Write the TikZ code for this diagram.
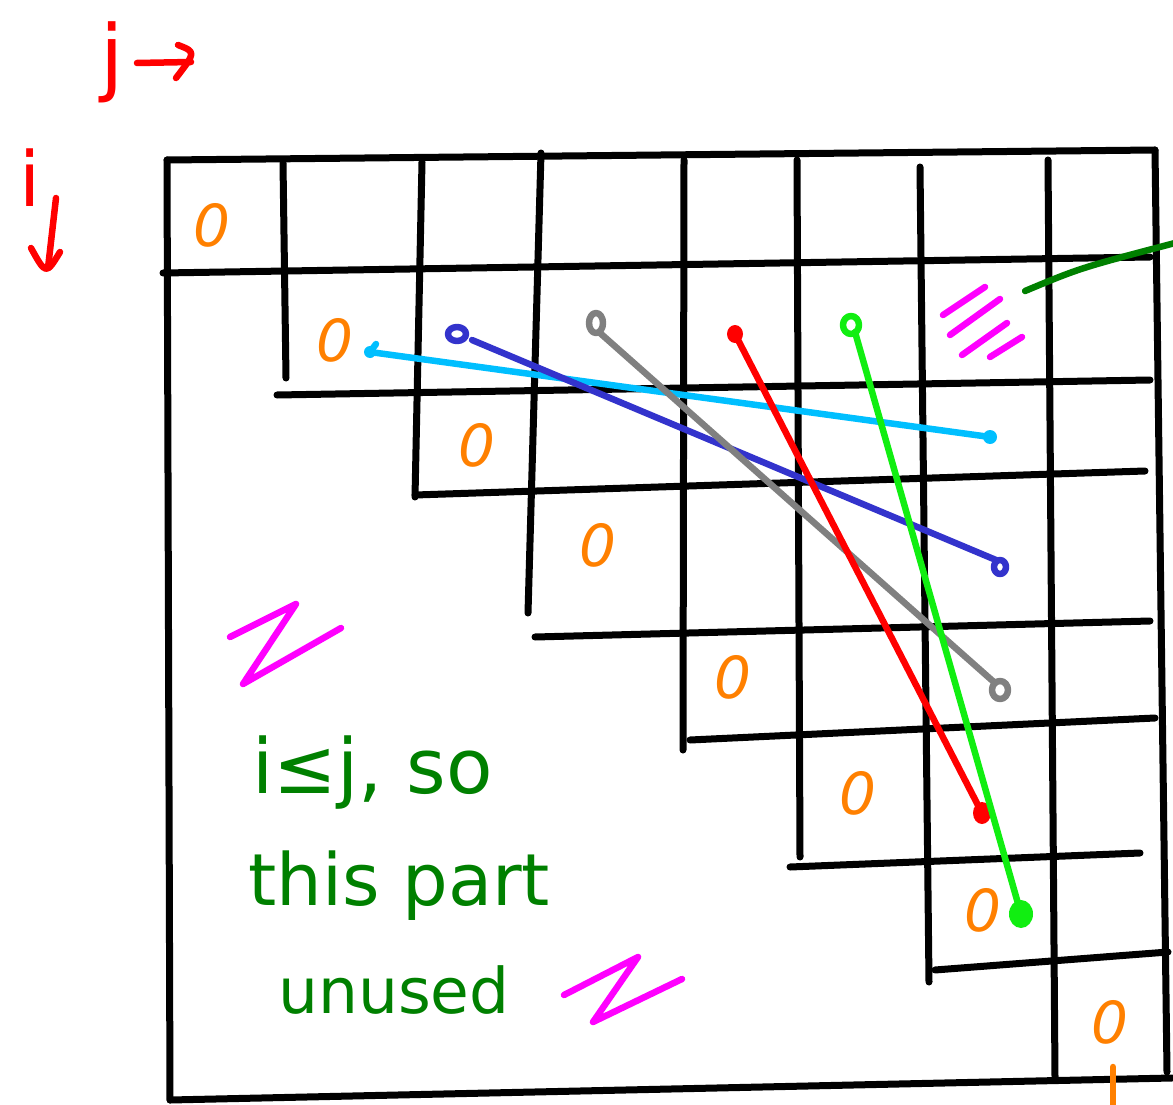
\documentclass[tikz,border=0pt]{standalone}
\usepackage{fontspec}
\setmainfont{DejaVu Sans}
\definecolor{zor}{HTML}{FF8000}
\definecolor{zcy}{HTML}{00BFFF}
\definecolor{zbl}{HTML}{3333CC}
\definecolor{zgr}{HTML}{808080}
\definecolor{zrd}{HTML}{FF0000}
\definecolor{zlm}{HTML}{11EE11}
\definecolor{zmg}{HTML}{FF00FF}
\definecolor{zdg}{HTML}{008000}
\begin{document}
\begin{tikzpicture}[x=1pt,y=-1pt,
  gridline/.style={line width=7pt,line cap=round,line join=round,black},
  pen/.style={line width=6.5pt,line cap=round,line join=round},
  zero/.style={text=zor,font=\fontsize{58}{60}\selectfont\itshape,inner sep=0pt},
  note/.style={text=zdg,inner sep=0pt,anchor=base west},
  axis/.style={text=zrd,inner sep=0pt}]
\useasboundingbox (0,0) rectangle (1173,1105);
\fill[white] (0,0) rectangle (1173,1105);

% outer border
\coordinate (tl) at (167,160);
\coordinate (tr) at (1155,150);
\coordinate (bl) at (170,1100);
\coordinate (br) at (1172,1078);
\coordinate (rb) at (1167,1072);
\draw[gridline] (tl) -- (tr);
\draw[gridline] (tl) -- (bl);
\draw[gridline] (bl) -- (br);
\draw[gridline] (tr) -- (rb);

% vertical separators
\draw[gridline] (283,163) -- (286,378);
\draw[gridline] (422,162) -- (415,497);
\draw[gridline] (541,153) -- (528,613);
\draw[gridline] (684,160) -- (683,750);
\draw[gridline] (797,160) -- (800,857);
\draw[gridline] (920,167) -- (929,982);
\draw[gridline] (1048,160) -- (1055,1077);

% horizontal separators (staircase)
\draw[gridline] (163,273) -- (1150,257);
\draw[gridline] (277,395) -- (1150,380);
\draw[gridline] (415,495) -- (1145,471);
\draw[gridline] (535,637) -- (1150,621);
\draw[gridline] (690,740) -- (1155,718);
\draw[gridline] (790,867) -- (1140,853);
\draw[gridline] (935,970) -- (1168,952);

% diagonal zeros
\node[zero] (z1) at (212,225) {0};
\node[zero] (z2) at (335,340) {0};
\node[zero] (z3) at (477,445) {0};
\node[zero] (z4) at (598,545) {0};
\node[zero] (z5) at (733,677) {0};
\node[zero] (z6) at (858,793) {0};
\node[zero] (z7) at (983,910) {0};
\node[zero] (z8) at (1110,1022) {0};
\coordinate (t1) at (1113,1067);
\coordinate (t2) at (1113,1110);
\draw[pen,zor] (t1) -- (t2);

% cyan
\coordinate (c1) at (370,352);
\coordinate (c2) at (990,437);
\draw[pen,zcy] (c1) -- (c2);
\fill[zcy] (c1) circle (6);
\draw[pen,zcy] (c1) -- (376,344);
\fill[zcy] (c2) circle (7);

% blue
\coordinate (b1) at (457,334);
\coordinate (b2) at (1000,567);
\draw[pen,zbl] (472,340) -- (996,560);
\draw[pen,zbl] (b1) ellipse (9 and 7);
\draw[pen,zbl] (b2) ellipse (6 and 7);

% gray
\coordinate (g1) at (596,323);
\coordinate (g2) at (1000,690);
\draw[pen,zgr] (600,333) -- (995,683);
\draw[pen,zgr] (g1) ellipse (7 and 10);
\draw[pen,zgr] (g2) ellipse (8 and 9);

% red
\coordinate (r1) at (735,334);
\coordinate (r2) at (982,813);
\draw[pen,zrd] (r1) -- (r2);
\fill[zrd] (r1) ellipse (8 and 9);
\fill[zrd] (r2) ellipse (9 and 11);

% green
\coordinate (l1) at (851,325);
\coordinate (l2) at (1021,914);
\draw[pen,zlm] (855,332) -- (l2);
\draw[pen,zlm] (l1) ellipse (8 and 9);
\fill[zlm] (l2) ellipse (12 and 14);

% magenta hatching
\draw[pen,zmg] (943,315) -- (985,287);
\draw[pen,zmg] (950,335) -- (1000,299);
\draw[pen,zmg] (962,355) -- (1007,323);
\draw[pen,zmg] (990,357) -- (1022,337);

% dark green pointer
\coordinate (p1) at (1025,291);
\coordinate (p2) at (1175,243);
\draw[pen,zdg] (p1) .. controls (1080,268) .. (p2);

% magenta Z marks
\draw[pen,zmg] (230,637) -- (296,604) -- (243,684) -- (341,628);
\draw[pen,zmg] (564,995) -- (638,957) -- (593,1022) -- (682,979);

% note
\node[note,font=\fontsize{76}{80}\selectfont] (n1) at (252,793) {i≤j, so};
\node[note,font=\fontsize{72}{80}\selectfont] (n2) at (248,905) {this part};
\node[note,font=\fontsize{63}{70}\selectfont] (n3) at (278,1013) {unused};

% axis labels
\node[axis,font=\fontsize{84}{90}\selectfont] (jl) at (112,62) {j};
\coordinate (ja) at (137,63);
\coordinate (jb) at (191,62);
\draw[pen,zrd] (ja) -- (jb);
\draw[pen,zrd] (178,45) .. controls (196,52) .. (176,78);
\node[axis,font=\fontsize{76}{80}\selectfont] (il) at (30,178) {i};
\coordinate (ia) at (56,198);
\coordinate (ib) at (48,268);
\draw[pen,zrd] (ia) -- (ib);
\draw[pen,zrd] (31,248) .. controls (46,275) .. (60,252);
\end{tikzpicture}
\end{document}
